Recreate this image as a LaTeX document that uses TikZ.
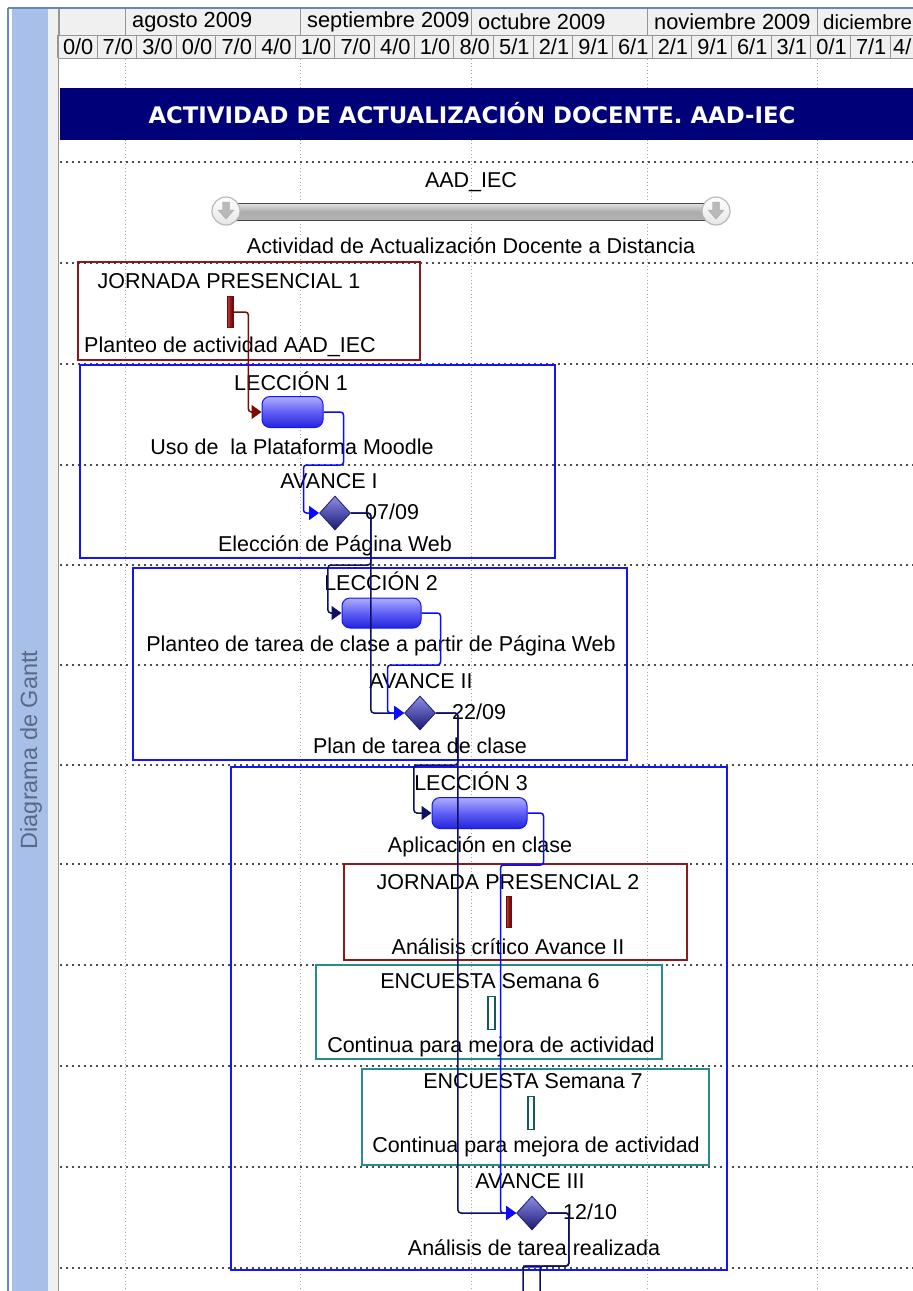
\documentclass[tikz,border=0pt]{standalone}
\usepackage{fontspec}
\setmainfont{Liberation Sans}
\newfontfamily\titlefam{DejaVu Sans}
\usetikzlibrary{shapes.geometric,arrows.meta,calc}
\definecolor{sideblue}{RGB}{168,192,232}
\definecolor{framebl}{RGB}{100,135,190}
\definecolor{hdrbg}{RGB}{240,240,240}
\definecolor{hdrln}{RGB}{150,150,150}
\definecolor{navyt}{RGB}{0,0,120}
\definecolor{boxblue}{RGB}{20,20,250}
\definecolor{boxred}{RGB}{140,25,25}
\definecolor{boxteal}{RGB}{40,140,140}
\definecolor{lnblue}{RGB}{10,10,255}
\definecolor{lnnavy}{RGB}{15,15,100}
\definecolor{lnred}{RGB}{120,10,10}
\definecolor{sidetxt}{RGB}{90,105,135}
\newcommand\gfont{\fontsize{21.5}{24}\selectfont}
\newcommand\hfont{\fontsize{21.8}{25}\selectfont}
\begin{document}
\begin{tikzpicture}[x=1pt,y=-1pt,
  lbl/.style={inner sep=0pt,font=\gfont,text=black},
  grpbox/.style={line width=1.6pt},
  rowdots/.style={gray!60!black,line width=1.6pt,dash pattern=on 1.6pt off 4.4pt},
  coldots/.style={gray!70,line width=1pt,dash pattern=on 1pt off 2.5pt},
  taskbar/.style={draw=boxblue,line width=1pt,rounded corners=8pt,inner sep=0pt,
     top color={rgb,255:red,175;green,175;blue,255},bottom color={rgb,255:red,35;green,35;blue,220},
     middle color={rgb,255:red,95;green,95;blue,245}},
  msdia/.style={diamond,draw={rgb,255:red,30;green,30;blue,110},line width=0.8pt,inner sep=0pt,
     minimum width=31pt,minimum height=34pt,aspect=0.9,
     top color={rgb,255:red,140;green,140;blue,235},bottom color={rgb,255:red,25;green,25;blue,110}},
  jbar/.style={draw=lnred,line width=0.8pt,inner sep=0pt,left color={rgb,255:red,200;green,60;blue,60},right color={rgb,255:red,90;green,0;blue,0}},
  ebar/.style={draw={rgb,255:red,20;green,90;blue,90},fill=white,line width=1.4pt,inner sep=0pt},
  cn/.style={line width=1.5pt,rounded corners=3pt,-{Triangle[length=10pt,width=14pt]}},
  cnplain/.style={line width=1.5pt,rounded corners=3pt},
]
\useasboundingbox (0,0) rectangle (913,1291);
\clip (0,0) rectangle (913,1291);
\fill[white] (0,0) rectangle (913,1291);
% left frame and sidebar
\draw[framebl,line width=2pt] (8,8) -- (8,1291);
\draw[framebl,line width=1.5pt] (8,8) -- (913,8);
\fill[sideblue] (12,9) rectangle (48,1291);
\fill[gray!12] (48,9) rectangle (58,1291);
\draw[hdrln,line width=1pt] (58,9) -- (58,1291);
\node (side) [rotate=90,font=\fontsize{23.5}{26}\selectfont,text=sidetxt,inner sep=0pt] at (31,750) {Diagrama de Gantt};
% header
\fill[hdrbg] (59,9) rectangle (913,58);
\draw[hdrln,line width=1pt] (59,35) -- (913,35);
\draw[hdrln,line width=1pt] (59,58) -- (913,58);
\foreach \xa/\xb/\mname/\nm in {59/125//m0,125/300/agosto 2009/m1,300/471/septiembre 2009/m2,471/647/octubre 2009/m3,647/817/noviembre 2009/m4}{
  \draw[hdrln,line width=1pt] (\xa,9) -- (\xa,35);
  \begin{scope}
    \clip (\xa,9) rectangle (\xb,35);
    \node (\nm) [anchor=west,inner sep=0pt,font=\hfont] at (\xa+7,22) {\mname};
  \end{scope}
}
\draw[hdrln,line width=1pt] (817,9) -- (817,35);
\node (m5) [anchor=west,inner sep=0pt,font=\fontsize{20.5}{24}\selectfont] at (823,22) {diciembre};
\foreach \d/\m [count=\i from 0] in {0/0,7/0,3/0,0/0,7/0,4/0,1/0,7/0,4/0,1/0,8/0,5/1,2/1,9/1,6/1,2/1,9/1,6/1,3/1,0/1,7/1}{
  \pgfmathsetmacro\xl{57.35+39.65*\i}
  \pgfmathsetmacro\xr{\xl+39.65}
  \draw[hdrln,line width=1pt] (\xl,35) -- (\xl,58);
  \node (day\i) [inner sep=0pt,font=\hfont] at ({(\xl+\xr)/2+1},46.5) {\d/\m};
}
\draw[hdrln,line width=1pt] (890,35) -- (890,58);
\node (day21) [inner sep=0pt,font=\hfont,anchor=west] at (893,46.5) {4/};
% grid
\foreach \xx in {125,300,471,647,817}{
  \draw[coldots] (\xx,59) -- (\xx,1291);
}
\foreach \yy in {162,263,364,465,565,665,765,864,965,1066,1167,1268}{
  \draw[rowdots] (60,\yy) -- (913,\yy);
}
% title bar
\node (title) [fill=navyt,minimum width=853pt,minimum height=52pt,inner sep=0pt,anchor=north west] at (60,88) {};
\node (titletxt) [text=white,inner sep=0pt,font=\titlefam\bfseries\fontsize{22.8}{25}\selectfont] at (472,113) {ACTIVIDAD DE ACTUALIZACIÓN DOCENTE. AAD-IEC};
% summary AAD_IEC
\node (sumtop) [lbl] at (471,182) {AAD\_IEC};
\node (sumbar) [draw=gray!55!black,line width=0.8pt,inner sep=0pt,minimum width=490pt,minimum height=17pt,
   top color=gray!20,bottom color=gray!60,middle color=gray!65] at (471,211.5) {};
\foreach \cx/\nm in {226/sumL,716/sumR}{
  \node (\nm) [circle,draw=gray!55,line width=1.2pt,minimum size=28pt,inner sep=0pt,top color=white,bottom color=gray!20] at (\cx,211) {};
  \filldraw[fill=gray!55,draw=gray!70] (\cx-3.5,202) -- (\cx+3.5,202) -- (\cx+3.5,210) -- (\cx+8,210) -- (\cx,219) -- (\cx-8,210) -- (\cx-3.5,210) -- cycle;
}
\node (sumlbl) [lbl] at (471,246) {Actividad de Actualización Docente a Distancia};
% group boxes
\draw[grpbox,boxred] (78,262) rectangle (420,360);
\draw[grpbox,boxblue] (80,365) rectangle (555,558);
\draw[grpbox,boxblue] (133,568) rectangle (627,760);
\draw[grpbox,boxblue] (231,767) rectangle (727,1270);
\draw[grpbox,boxred] (344,864) rectangle (687,960);
\draw[grpbox,boxteal] (316,965) rectangle (662,1059);
\draw[grpbox,boxteal] (362,1069) rectangle (709,1165);
% labels
\node (j1t) [lbl] at (229,281) {JORNADA PRESENCIAL 1};
\node (j1b) [lbl] at (230,347) {Planteo de actividad AAD\_IEC};
\node (l1t) [lbl] at (291,381) {LECCIÓN 1};
\node (l1b) [lbl] at (292,447) {Uso de~ la Plataforma Moodle};
\node (a1t) [lbl] at (329,481) {AVANCE I};
\node (a1b) [lbl] at (335,546) {Elección de Página Web};
\node (l2t) [lbl] at (381,581) {LECCIÓN 2};
\node (l2b) [lbl] at (381,646) {Planteo de tarea de clase a partir de Página Web};
\node (a2t) [lbl] at (421,681) {AVANCE II};
\node (a2b) [lbl] at (420,746) {Plan de tarea de clase};
\node (l3t) [lbl] at (471,781) {LECCIÓN 3};
\node (l3b) [lbl] at (480,847) {Aplicación en clase};
\node (j2t) [lbl] at (508,882) {JORNADA PRESENCIAL 2};
\node (j2b) [lbl] at (508,947) {Análisis crítico Avance II};
\node (e6t) [lbl] at (490,981) {ENCUESTA Semana 6};
\node (e6b) [lbl] at (491,1047) {Continua para mejora de actividad};
\node (e7t) [lbl] at (533,1081) {ENCUESTA Semana 7};
\node (e7b) [lbl] at (536,1147) {Continua para mejora de actividad};
\node (a3t) [lbl] at (530,1181) {AVANCE III};
\node (a3b) [lbl] at (534,1248) {Análisis de tarea realizada};
% bars and milestones
\node (jbar1) [jbar,minimum width=6pt,minimum height=31pt] at (230,312) {};
\node (lbar1) [taskbar,minimum width=61pt,minimum height=31pt] at (292.5,412) {};
\node (ms1) [msdia] at (335,513) {};
\node (lbar2) [taskbar,minimum width=79pt,minimum height=30pt] at (381.5,613) {};
\node (ms2) [msdia] at (420,713) {};
\node (lbar3) [taskbar,minimum width=95pt,minimum height=31pt] at (479.5,813) {};
\node (jbar2) [jbar,minimum width=5pt,minimum height=31pt] at (508.5,912) {};
\node (ebar6) [ebar,minimum width=7pt,minimum height=33pt] at (491.5,1013) {};
\node (ebar7) [ebar,minimum width=6pt,minimum height=33pt] at (531,1113) {};
\node (ms3) [msdia] at (532,1213) {};
\node (d1) [lbl,anchor=west] at (365,512) {07/09};
\node (d2) [lbl,anchor=west] at (452,712) {22/09};
\node (d3) [lbl,anchor=west] at (563,1212) {12/10};
% connectors
\draw[cn,lnred] (jbar1.east) -- ++(15,0) |- (lbar1.west);
\draw[cn,lnblue] (lbar1.east) -- ++(20,0) -- ++(0,53) -- ++(-40,0) |- (ms1.west);
\draw[cn,lnnavy] (ms1.east) -- ++(20,0) -- ++(0,52) -- ++(-43,0) |- (lbar2.west);
\draw[cn,lnnavy] (ms1.east) -- ++(20,0) |- (ms2.west);
\draw[cn,lnblue] (lbar2.east) -- ++(19,0) -- ++(0,52) -- ++(-53,0) |- (ms2.west);
\draw[cn,lnnavy] (ms2.east) -- ++(22,0) -- ++(0,52) -- ++(-44,0) |- (lbar3.west);
\draw[cn,lnnavy] (ms2.east) -- ++(22,0) |- (ms3.west);
\draw[cn,lnblue] (lbar3.east) -- ++(16,0) -- ++(0,52) -- ++(-43,0) |- (ms3.west);
\coordinate (outA) at (523,1300);
\coordinate (outB) at (540,1300);
\fill[lnblue!70] (523,1265) rectangle (540,1268);
\draw[cnplain,lnnavy] (ms3.east) -- ++(21,0) -- ++(0,53) -| (outB);
\draw[cnplain,lnnavy] (ms3.east) -- ++(21,0) -- ++(0,53) -| (outA);
\end{tikzpicture}
\end{document}
